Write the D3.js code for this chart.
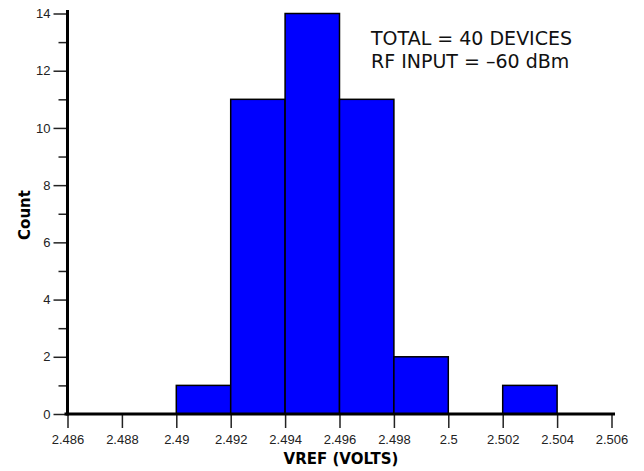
<!DOCTYPE html>
<html>
<head>
<meta charset="utf-8">
<script src="https://cdn.jsdelivr.net/npm/d3@7"></script>
<style>
  body { margin: 0; background: #fff; }
  svg { display: block; }
  .tick text { font-family: "Liberation Sans", Arial, sans-serif; font-size: 13px; fill: #222; }
  .tick line { stroke: #222; stroke-width: 1.5; }
  .domain { display: none; }
</style>
</head>
<body>
<svg width="644" height="471"></svg>
<script>
'use strict';

// bin edges (VREF volts) and counts per bin
var binStarts = [2.490, 2.492, 2.494, 2.496, 2.498, 2.500, 2.502],
    binWidth = 0.002,
    counts = [1, 11, 14, 11, 2, 0, 1],
    xTicks = [2.486, 2.488, 2.49, 2.492, 2.494, 2.496, 2.498, 2.5, 2.502, 2.504, 2.506],
    yMajor = [0, 2, 4, 6, 8, 10, 12, 14],
    yMinor = [1, 3, 5, 7, 9, 11, 13],
    notes = ['TOTAL = 40 DEVICES', 'RF INPUT = \u201360 dBm'];

var svg = d3.select('svg');

var x = d3.scaleLinear().domain([2.486, 2.506]).range([67.5, 611.5]),
    y = d3.scaleLinear().domain([0, 14]).range([414, 13.5]);

// bars
svg.append('g').selectAll('rect')
    .data(binStarts.map(function (s, i) { return { x0: s, n: counts[i] }; })
        .filter(function (d) { return d.n > 0; }))
    .enter().append('rect')
    .attr('x', function (d) { return x(d.x0); })
    .attr('y', function (d) { return y(d.n); })
    .attr('width', function (d) { return x(d.x0 + binWidth) - x(d.x0); })
    .attr('height', function (d) { return y(0) - y(d.n); })
    .attr('fill', '#0000ff')
    .attr('stroke', '#000')
    .attr('stroke-width', 1.5);

// x axis
svg.append('g')
    .attr('transform', 'translate(0,' + y(0) + ')')
    .call(d3.axisBottom(x).tickValues(xTicks).tickSize(14).tickPadding(7)
        .tickFormat(function (d) { return String(+d.toFixed(3)); }));

// y axis major + minor
svg.append('g')
    .attr('transform', 'translate(' + x(2.486) + ',0)')
    .call(d3.axisLeft(y).tickValues(yMajor).tickSize(14).tickPadding(3));
svg.append('g')
    .attr('transform', 'translate(' + x(2.486) + ',0)')
    .call(d3.axisLeft(y).tickValues(yMinor).tickSize(9).tickFormat(''));

// thick axis lines
svg.append('line')
    .attr('x1', x(2.486) - 3).attr('x2', 615)
    .attr('y1', y(0)).attr('y2', y(0))
    .attr('stroke', '#000').attr('stroke-width', 3);
svg.append('line')
    .attr('x1', x(2.486)).attr('x2', x(2.486))
    .attr('y1', 10).attr('y2', y(0) + 1.5)
    .attr('stroke', '#000').attr('stroke-width', 3);

// axis titles
svg.append('text')
    .attr('x', 341).attr('y', 464)
    .attr('text-anchor', 'middle')
    .style('font-family', '"DejaVu Sans", sans-serif')
    .style('font-size', '15px').style('font-weight', 'bold')
    .text('VREF (VOLTS)');
svg.append('text')
    .attr('transform', 'translate(30,215) rotate(-90)')
    .attr('text-anchor', 'middle')
    .style('font-family', '"DejaVu Sans", sans-serif')
    .style('font-size', '15px').style('font-weight', 'bold')
    .text('Count');

// annotation
svg.append('g').selectAll('text')
    .data(notes)
    .enter().append('text')
    .attr('x', 371)
    .attr('y', function (d, i) { return 45 + i * 23; })
    .style('font-family', '"DejaVu Sans", sans-serif')
    .style('font-size', '19px')
    .attr('fill', '#111')
    .text(function (d) { return d; });
</script>
</body>
</html>
